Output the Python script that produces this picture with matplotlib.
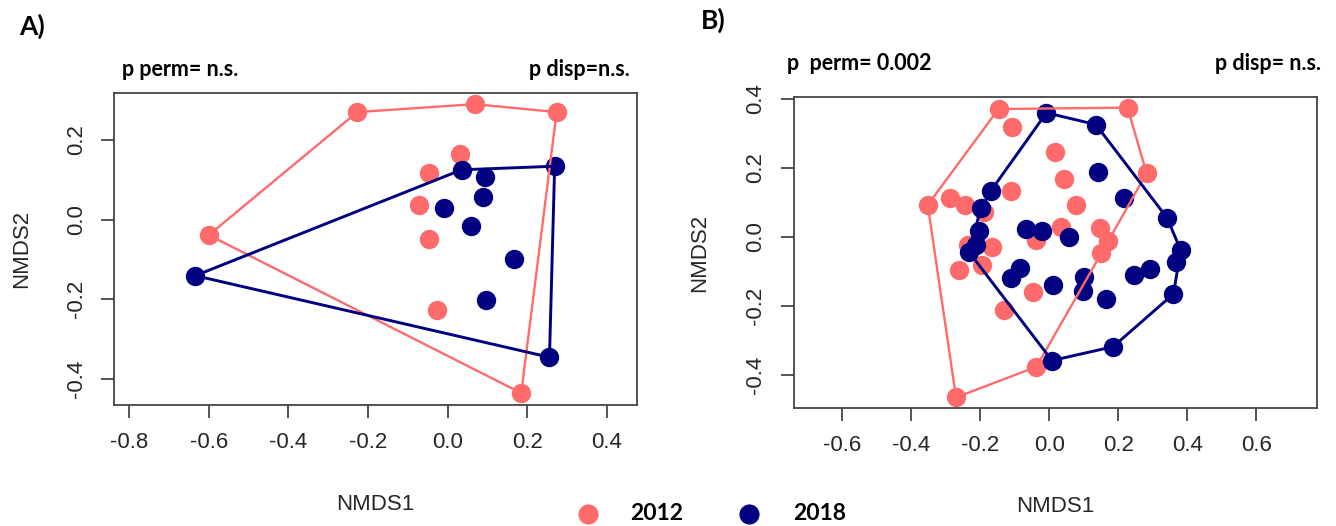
import matplotlib
matplotlib.use("Agg")
import matplotlib.pyplot as plt
from matplotlib.lines import Line2D

plt.rcParams["axes.unicode_minus"] = False
plt.rcParams["font.family"] = ["Liberation Sans", "DejaVu Sans"]

RED = "#FF6A6A"
NAVY = "#000080"

# NMDS site scores, panel A
a2012_x = [-0.227, 0.068, 0.274, -0.600, 0.185, 0.032, -0.047, -0.072, -0.047, -0.026]
a2012_y = [0.270, 0.290, 0.270, -0.039, -0.436, 0.165, 0.118, 0.036, -0.050, -0.227]
a2018_x = [0.035, 0.269, 0.095, 0.088, -0.009, 0.060, 0.168, 0.097, -0.634, 0.256]
a2018_y = [0.125, 0.134, 0.107, 0.057, 0.028, -0.016, -0.100, -0.202, -0.141, -0.346]

# NMDS site scores, panel B
b2012_x = [-0.147, 0.227, -0.107, 0.018, 0.043, 0.282, -0.110, 0.077, -0.352, -0.287,
           -0.243, -0.190, 0.033, 0.147, 0.171, 0.151, -0.037, -0.236, -0.165, -0.195,
           -0.261, -0.048, -0.131, -0.037, -0.270]
b2012_y = [0.371, 0.375, 0.320, 0.246, 0.168, 0.185, 0.133, 0.094, 0.093, 0.114,
           0.094, 0.073, 0.030, 0.027, -0.012, -0.047, -0.009, -0.023, -0.030, -0.081,
           -0.096, -0.159, -0.212, -0.376, -0.465]
b2018_x = [-0.008, 0.135, 0.140, 0.218, 0.341, 0.381, 0.366, 0.360, 0.185, 0.008,
           -0.233, -0.169, -0.198, -0.203, -0.212, -0.067, -0.022, 0.056, -0.085, -0.110,
           0.011, 0.102, 0.098, 0.165, 0.245, 0.293]
b2018_y = [0.360, 0.326, 0.189, 0.112, 0.056, -0.038, -0.073, -0.165, -0.318, -0.358,
           -0.043, 0.134, 0.083, 0.018, -0.023, 0.023, 0.018, 0.001, -0.091, -0.118,
           -0.139, -0.117, -0.156, -0.181, -0.109, -0.094]

years = ["2012", "2018"]


def hull(xs, ys):
    # monotone chain convex hull, returned closed
    pts = sorted(set(zip(xs, ys)))

    def cross(o, a, b):
        return (a[0] - o[0]) * (b[1] - o[1]) - (a[1] - o[1]) * (b[0] - o[0])

    lower, upper = [], []
    for p in pts:
        while len(lower) >= 2 and cross(lower[-2], lower[-1], p) <= 0:
            lower.pop()
        lower.append(p)
    for p in reversed(pts):
        while len(upper) >= 2 and cross(upper[-2], upper[-1], p) <= 0:
            upper.pop()
        upper.append(p)
    h = lower[:-1] + upper[:-1]
    h.append(h[0])
    return [p[0] for p in h], [p[1] for p in h]


def ordiplot(ax, g1, g2, xticks, yticks, xlim, ylim):
    ax.scatter(g1[0], g1[1], s=195, color=RED, linewidths=0, zorder=2)
    ax.scatter(g2[0], g2[1], s=195, color=NAVY, linewidths=0, zorder=3)
    hx, hy = hull(*g1)
    ax.plot(hx, hy, color=RED, lw=1.7, zorder=4)
    hx, hy = hull(*g2)
    ax.plot(hx, hy, color=NAVY, lw=2.1, zorder=5)

    ax.set_xlim(*xlim)
    ax.set_ylim(*ylim)
    ax.set_xticks(xticks)
    ax.set_yticks(yticks)
    ax.set_xticklabels([f"{v:.1f}" for v in xticks])
    ax.set_yticklabels([f"{v:.1f}" for v in yticks])
    for s in ax.spines.values():
        s.set_color("#454545")
        s.set_linewidth(1.3)
    ax.tick_params(direction="out", length=9.5, width=1.3, color="#454545",
                   labelsize=16, labelcolor="#262626", pad=10)
    ax.tick_params(axis="y", labelrotation=90)
    for lbl in ax.get_yticklabels():
        lbl.set_va("center")
    ax.set_xlabel("NMDS1", fontsize=16, color="#262626", va="center")
    ax.set_ylabel("NMDS2", fontsize=16, color="#262626", va="center")


W, H = 1336, 526
fig = plt.figure(figsize=(W / 100, H / 100), dpi=100)

axA = fig.add_axes([114.3 / W, 1 - 405 / H, 522.5 / W, 312 / H])
ordiplot(axA, (a2012_x, a2012_y), (a2018_x, a2018_y),
         [-0.8, -0.6, -0.4, -0.2, 0.0, 0.2, 0.4], [-0.4, -0.2, 0.0, 0.2],
         (-0.8374, 0.4754), (-0.466, 0.318))
axA.xaxis.set_label_coords(0.5, (405 - 505) / 312)
axA.yaxis.set_label_coords((22 - 114.3) / 522.5, 0.5)

axB = fig.add_axes([793.5 / W, 1 - 408.3 / H, 523.2 / W, 311.6 / H])
ordiplot(axB, (b2012_x, b2012_y), (b2018_x, b2018_y),
         [-0.6, -0.4, -0.2, 0.0, 0.2, 0.4, 0.6], [-0.4, -0.2, 0.0, 0.2, 0.4],
         (-0.741, 0.775), (-0.4965, 0.4067))
axB.xaxis.set_label_coords(0.5, (408.3 - 507) / 311.6)
axB.yaxis.set_label_coords((700 - 793.5) / 523.2, 0.5)


def label(px, py, s, size):
    fig.text(px / W, 1 - py / H, s, fontsize=size, fontweight="bold",
             family=["Lato", "DejaVu Sans"], ha="left", va="center", color="black")


label(19, 26, "A)", 19)
label(122, 69, "p perm= n.s.", 15.5)
label(529, 69, "p disp=n.s.", 15.5)
label(701, 20, "B)", 19)
label(787, 64, "p  perm= 0.002", 15.5)
label(1215, 63, "p disp= n.s.", 15.5)

# group key under the panels
for cx, col, tx, yr in [(588, RED, 630, years[0]), (749, NAVY, 793, years[1])]:
    fig.add_artist(Line2D([cx / W], [1 - 514 / H], marker="o", markersize=14.5,
                          color=col, markeredgewidth=0, transform=fig.transFigure))
    label(tx, 513, yr, 16.5)

fig.savefig("out.png", dpi=100)
